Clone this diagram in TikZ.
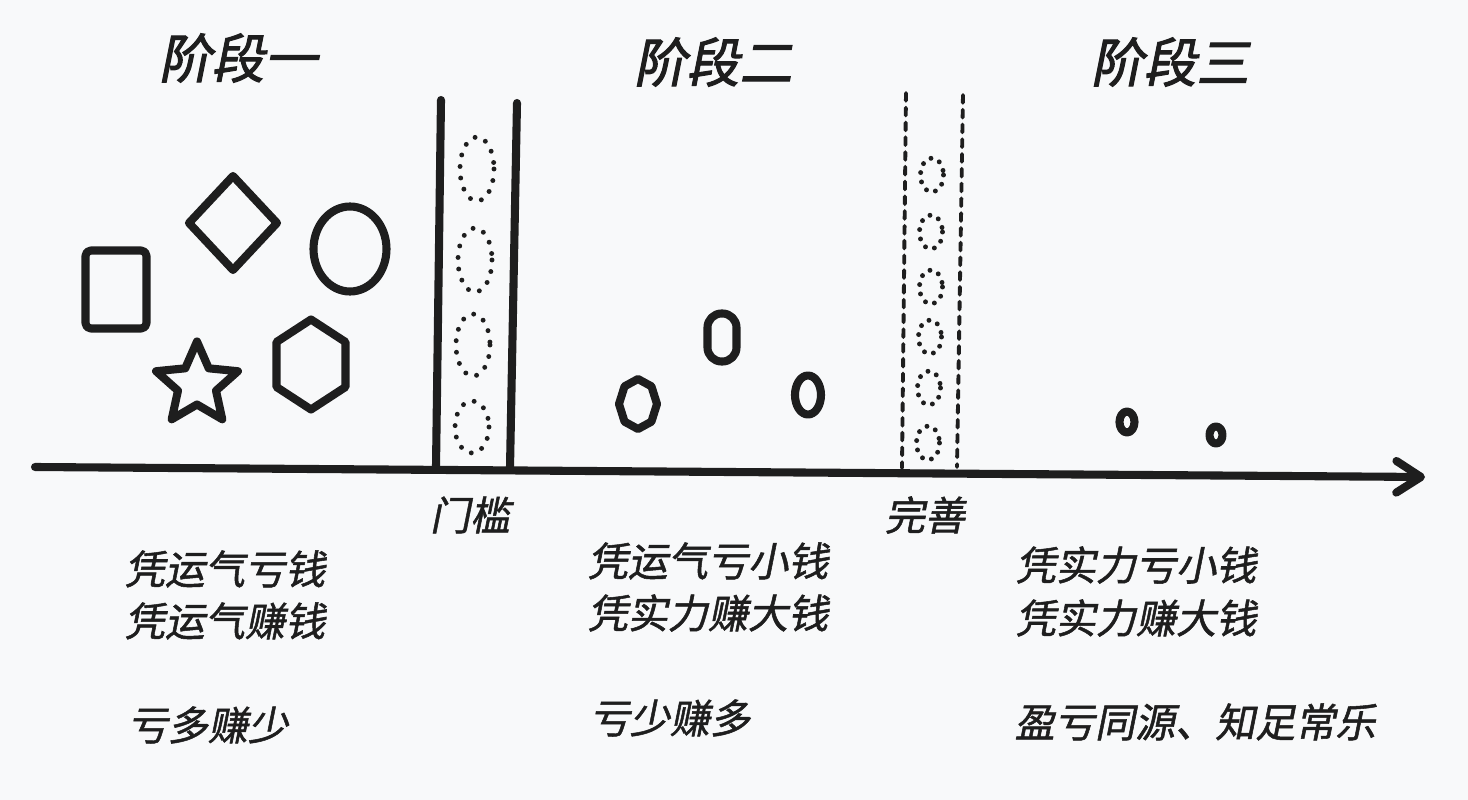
\documentclass[tikz,border=0pt]{standalone}
\usepackage{fontspec}
\usepackage{tikz}
\usetikzlibrary{arrows.meta}
\usetikzlibrary{calc}
\newfontfamily\cjk[FakeSlant=0.2,FakeBold=1.3]{Noto Sans CJK SC}
\newfontfamily\cjktitle[FakeSlant=0.2,FakeBold=2]{Noto Sans CJK SC}
\definecolor{ink}{HTML}{1E1E1E}
\definecolor{paper}{HTML}{F8F9FA}
\tikzset{
  shapeline/.style={draw=ink, line width=2.3pt, line join=round, line cap=round},
  dotring/.style={draw=ink, line width=1.4pt, line cap=round, dash pattern=on 0pt off 3.3pt},
  smallring/.style={draw=ink, line width=1.4pt, line cap=round, dash pattern=on 0pt off 2.7pt},
  dashrail/.style={draw=ink, line width=1.1pt, line cap=round, dash pattern=on 2.2pt off 2pt},
  stagetitle/.style={text=ink, inner sep=0pt, font=\cjktitle\fontsize{15pt}{18pt}\selectfont},
  stagetext/.style={text=ink, inner sep=0pt, anchor=west, font=\cjk\fontsize{11.4pt}{14pt}\selectfont},
}

\begin{document}
\begin{tikzpicture}[x=0.01cm, y=-0.01cm]
\fill[paper] (0,0) rectangle (1468,800);
\useasboundingbox (0,0) rectangle (1468,800);

\node[stagetitle] (stage1) at (238,58) {阶段一};
\node[stagetitle] (stage2) at (713,62) {阶段二};
\node[stagetitle] (stage3) at (1170,62) {阶段三};

\coordinate (axisL) at (35,467);
\coordinate (axisR) at (1425,477);
\draw[shapeline, -{Straight Barb[length=7pt, width=9pt, round]}] (axisL) -- (axisR);

\draw[shapeline, rounded corners=1.5pt] (85.5,250.5) rectangle (146.5,328.5);
\draw[shapeline] (233,176) -- (277,223) -- (233,270) -- (189,223) -- cycle;
\draw[shapeline] (350,249) ellipse [x radius=36.5, y radius=42.5];
\draw[shapeline] (197,341.5)
  \foreach \k in {1,...,9} {
    -- ($(197,384.5)+({-90+36*\k}:{ifthenelse(mod(\k,2)==1,20,43)})$)
  } -- cycle;
\draw[shapeline] (311,319.5) -- (345.5,342) -- (345.5,387) -- (311,409.5) -- (276.5,387) -- (276.5,342) -- cycle;

\coordinate (gate1Ltop) at (441,100);
\coordinate (gate1Lbot) at (436,467);
\coordinate (gate1Rtop) at (517,103);
\coordinate (gate1Rbot) at (510,468);
\draw[shapeline] (gate1Ltop) -- (gate1Lbot);
\draw[shapeline] (gate1Rtop) -- (gate1Rbot);
\draw[dotring] (477,169) ellipse [x radius=17, y radius=32];
\draw[dotring] (475,260) ellipse [x radius=17, y radius=32];
\draw[dotring] (473,345) ellipse [x radius=17, y radius=31];
\draw[dotring] (472,427) ellipse [x radius=17, y radius=26];
\node[stagetext, anchor=center] (gate1) at (470,515) {门槛};

\draw[shapeline] (638,379) \foreach \k in {1,...,7} { -- ($(638,404)+({-90+45*\k}:{19} and {25})$) } -- cycle;
\draw[shapeline, rounded corners=4pt] (707.5,313.5) rectangle (736.5,361.5);
\draw[shapeline] (808,395) ellipse [x radius=13, y radius=19.5];

\coordinate (gate2Ltop) at (906,93);
\coordinate (gate2Lbot) at (902,468);
\coordinate (gate2Rtop) at (963,95);
\coordinate (gate2Rbot) at (957,467);
\draw[dashrail] (gate2Ltop) -- (gate2Lbot);
\draw[dashrail] (gate2Rtop) -- (gate2Rbot);
\foreach \cx/\cy in {932/175, 931/232, 931/287, 930/337, 929/388, 928/443}
  \draw[smallring] (\cx,\cy) ellipse [x radius=11.5, y radius=17];
\node[stagetext, anchor=center] (gate2) at (925,515) {完善};

\draw[shapeline] (1127,422) ellipse [x radius=7.5, y radius=10.5];
\draw[shapeline] (1216,435) ellipse [x radius=6.5, y radius=8.5];

\node[stagetext] (s1a) at (124,569) {凭运气亏钱};
\node[stagetext] (s1b) at (124,621) {凭运气赚钱};
\node[stagetext] (s1c) at (127,725) {亏多赚少};

\node[stagetext] (s2a) at (587,561) {凭运气亏小钱};
\node[stagetext] (s2b) at (587,613) {凭实力赚大钱};
\node[stagetext] (s2c) at (589,718) {亏少赚多};

\node[stagetext] (s3a) at (1015,565) {凭实力亏小钱};
\node[stagetext] (s3b) at (1015,618) {凭实力赚大钱};
\node[stagetext] (s3c) at (1014,722) {盈亏同源、知足常乐};
\end{tikzpicture}
\end{document}
